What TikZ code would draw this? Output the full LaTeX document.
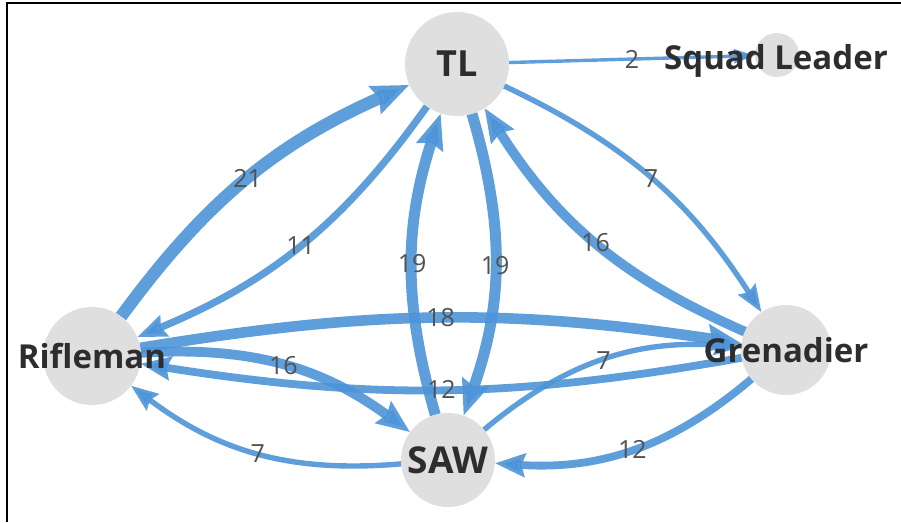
\documentclass[tikz,border=0pt]{standalone}
\usepackage{fontspec}
\setmainfont{Open Sans}
\usetikzlibrary{arrows.meta}

\definecolor{edgeblue}{RGB}{77,148,216}
\definecolor{nodegray}{RGB}{223,223,223}
\definecolor{nametext}{RGB}{45,45,45}
\definecolor{weighttext}{RGB}{82,82,82}

\pgfdeclarelayer{links}
\pgfsetlayers{links,main}

\tikzset{
  member/.style={circle, fill=nodegray, draw=none, inner sep=0pt, outer sep=0pt, minimum size=#1},
  name tag/.style={font=\bfseries\fontsize{#1}{40}\selectfont, text=nametext, inner sep=0pt},
  name tag/.default=33,
  weight tag/.style={font=\fontsize{25}{30}\selectfont, text=weighttext, inner sep=0pt},
  link/.style n args={3}{draw=edgeblue, line width=#1pt, opacity=0.9,
    -{Stealth[length=#2pt, width=#3pt, inset=0.12*#2pt]}},
}

\begin{document}
\begin{tikzpicture}[x=1pt, y=1pt]
  \useasboundingbox (0,0) rectangle (901,522);

  % team members
  \node[member=104pt] (tl)   at (457,458) {};
  \node[member=44pt]  (sql)  at (777,467) {};
  \node[member=98pt]  (rif)  at (92,166)  {};
  \node[member=94pt]  (saw)  at (448,62)  {};
  \node[member=90pt]  (gren) at (786,172) {};

  \node[name tag=36] (tl-t)   at (tl)       {TL};
  \node[name tag]    (sql-t)  at (776,461)  {Squad Leader};
  \node[name tag]    (rif-t)  at (rif)      {Rifleman};
  \node[name tag=37] (saw-t)  at (saw)      {SAW};
  \node[name tag]    (gren-t) at (gren)     {Grenadier};

  % communication links, kept underneath the members
  \begin{pgfonlayer}{links}
    \fill[white] (0,0) rectangle (901,522);
    \draw[line width=1.5pt, black] (7,0) -- (7,519) -- (901,519);
    \draw[link={12.5}{37}{29}] (rif)  to[bend left=15]  coordinate[pos=0.5] (w1)  (tl);
    \draw[link={7.2}{29}{22}]  (tl)   to[bend left=16]  coordinate[pos=0.5] (w2)  (rif);
    \draw[link={11}{35}{27}]   (saw)  to[bend left=17]  coordinate[pos=0.5] (w3)  (tl);
    \draw[link={11}{35}{27}]   (tl)   to[bend left=18]  coordinate[pos=0.5] (w4)  (saw);
    \draw[link={5.4}{27}{20}]  (tl)   to[bend left=16]  coordinate[pos=0.5] (w5)  (gren);
    \draw[link={9.8}{33}{26}]  (gren) to[bend left=17]  coordinate[pos=0.5] (w6)  (tl);
    \draw[link={3.4}{21}{14}]  (tl)   --                coordinate[pos=0.5] (w7)  (sql);
    \draw[link={10.6}{34}{27}] (rif)  to[bend left=9]   coordinate[pos=0.5] (w8)  (gren);
    \draw[link={7.8}{30}{23}]  (gren) to[bend left=9.5] coordinate[pos=0.5] (w9)  (rif);
    \draw[link={9.8}{33}{26}]  (rif)  to[bend left=20]  coordinate[pos=0.5] (w10) (saw);
    \draw[link={5.4}{27}{20}]  (saw)  to[bend left=21]  coordinate[pos=0.5] (w11) (rif);
    \draw[link={5.4}{27}{20}]  (saw)  to[bend left=22]  coordinate[pos=0.5] (w12) (gren);
    \draw[link={7.8}{30}{23}]  (gren) to[bend left=22]  coordinate[pos=0.5] (w13) (saw);
  \end{pgfonlayer}

  % link weights
  \node[weight tag] at (w1)  {21};
  \node[weight tag] at (w2)  {11};
  \node[weight tag] at (w3)  {19};
  \node[weight tag] at (w4)  {19};
  \node[weight tag] at (w5)  {7};
  \node[weight tag] at (w6)  {16};
  \node[weight tag] at (w7)  {2};
  \node[weight tag] at (w8)  {18};
  \node[weight tag] at (w9)  {12};
  \node[weight tag] at (w10) {16};
  \node[weight tag] at (w11) {7};
  \node[weight tag] at (w12) {7};
  \node[weight tag] at (w13) {12};
\end{tikzpicture}
\end{document}
